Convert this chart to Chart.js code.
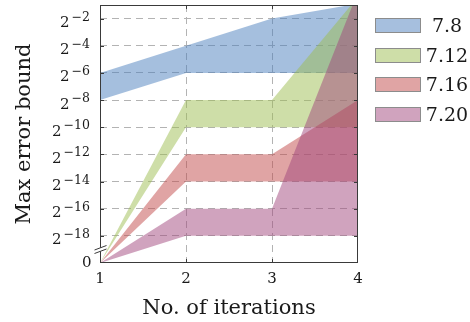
<!DOCTYPE html>
<html>
<head>
<meta charset="utf-8">
<script src="https://cdn.jsdelivr.net/npm/chart.js@4"></script>
<style>
  html, body { margin: 0; padding: 0; background: #fff; }
  #wrap { position: relative; width: 470px; height: 322px; }
  #legend { position: absolute; left: 375px; top: 18px; font-family: 'DejaVu Serif', serif; font-size: 19px; color: #1a1a1a; }
  .item { position: relative; height: 29.5px; width: 95px; }
  .box { position: absolute; left: 0; top: 0; width: 44px; height: 13px; border: 1px solid #8c8c8c; }
  .txt { position: absolute; left: 46px; width: 52px; top: -4px; line-height: 23px; text-align: center; }
</style>
</head>
<body>
<div id="wrap">
  <canvas id="chart" width="470" height="322"></canvas>
  <div id="legend"></div>
</div>
<script>
const iterations = [1, 2, 3, 4];
const seriesNames = ['7.8', '7.12', '7.16', '7.20'];

// values are log2 of the max error bound; ZERO is the "0" level under the axis break
const ZERO = -20;
const lo78  = [-8, -6, -6, -6];
const hi78  = [-6, -4, -2, -0.9];
const lo712 = [ZERO, -10, -10, -10];
const hi712 = [ZERO, -8, -8, -0.4];
const lo716 = [ZERO, -14, -14, -14];
const hi716 = [ZERO, -12, -12, -8];
const lo720 = [ZERO, -18, -18, -18];
const hi720 = [ZERO, -16, -16, 0];

const yTickExps = [-18, -16, -14, -12, -10, -8, -6, -4, -2];

const fillColors = ['rgba(76,128,190,0.5)', 'rgba(157,189,81,0.5)', 'rgba(193,73,73,0.5)', 'rgba(161,71,125,0.5)'];
const legendColors = ['#a6bfde', '#cedea8', '#e0a4a4', '#d0a3be'];
const textColor = '#1a1a1a';
const gridColor = '#b3b3b3';
const axisColor = '#3a3a3a';
const serif = "'DejaVu Serif', serif";

const bands = [[lo78, hi78], [lo712, hi712], [lo716, hi716], [lo720, hi720]];

const toPoints = arr => arr.map((v, i) => ({ x: iterations[i], y: v }));

// each band = invisible lower line + upper line filled down to it
const datasets = [];
bands.forEach(([lo, hi], i) => {
  const order = bands.length - i;
  datasets.push({
    label: seriesNames[i] + ' lo',
    data: toPoints(lo),
    borderColor: 'rgba(0,0,0,0)',
    pointRadius: 0,
    fill: false,
    order: order,
  });
  datasets.push({
    label: seriesNames[i],
    data: toPoints(hi),
    borderColor: 'rgba(0,0,0,0)',
    backgroundColor: fillColors[i],
    pointRadius: 0,
    fill: '-1',
    order: order,
  });
});

// frame, axis break, inner tick marks and the 2^n tick labels
const axisDecor = {
  id: 'axisDecor',
  afterDraw(chart) {
    const { ctx, chartArea: a, scales } = chart;
    const ys = scales.y, xs = scales.x;
    const L = Math.round(a.left) + 0.5, R = Math.round(a.right) - 0.5;
    const T = Math.round(a.top) + 0.5, B = Math.round(a.bottom) - 0.5;
    ctx.save();
    ctx.strokeStyle = axisColor;
    ctx.lineWidth = 1;
    ctx.strokeRect(L, T, R - L, B - T);

    // inner ticks
    ctx.beginPath();
    yTickExps.forEach(e => {
      const y = Math.round(ys.getPixelForValue(e)) + 0.5;
      ctx.moveTo(L, y); ctx.lineTo(L + 3.5, y);
      ctx.moveTo(R, y); ctx.lineTo(R - 3.5, y);
    });
    [2, 3].forEach(v => {
      const x = Math.round(xs.getPixelForValue(v)) + 0.5;
      ctx.moveTo(x, T); ctx.lineTo(x, T + 3.5);
      ctx.moveTo(x, B); ctx.lineTo(x, B - 3.5);
    });
    ctx.stroke();

    // axis break marks
    const bx = L, by = a.bottom - 13.5;
    ctx.fillStyle = '#fff';
    ctx.beginPath();
    ctx.moveTo(bx - 6, by + 0.5); ctx.lineTo(bx + 6, by - 4);
    ctx.lineTo(bx + 6, by - 0.5); ctx.lineTo(bx - 6, by + 4);
    ctx.closePath();
    ctx.fill();
    ctx.beginPath();
    ctx.moveTo(bx - 6, by + 0.5); ctx.lineTo(bx + 6, by - 4);
    ctx.moveTo(bx - 6, by + 4); ctx.lineTo(bx + 6, by - 0.5);
    ctx.stroke();

    // tick labels
    ctx.fillStyle = textColor;
    ctx.textAlign = 'right';
    ctx.textBaseline = 'alphabetic';
    const right = a.left - 10;
    yTickExps.forEach(e => {
      const y = ys.getPixelForValue(e);
      const sup = '\u2212' + Math.abs(e);
      ctx.font = '12.5px ' + serif;
      const w = ctx.measureText(sup).width;
      ctx.fillText(sup, right, y + 2);
      ctx.font = '15px ' + serif;
      ctx.fillText('2', right - w - 2, y + 8.5);
    });
    ctx.font = '15px ' + serif;
    ctx.textBaseline = 'middle';
    ctx.fillText('0', right + 1.5, ys.getPixelForValue(ZERO));
    ctx.restore();
  }
};

new Chart(document.getElementById('chart'), {
  type: 'line',
  data: { datasets },
  plugins: [axisDecor],
  options: {
    responsive: false,
    animation: false,
    layout: { padding: { top: 5, right: 112, left: 0, bottom: 0 } },
    plugins: { legend: { display: false }, tooltip: { enabled: false } },
    elements: { line: { tension: 0, borderWidth: 1 } },
    scales: {
      x: {
        type: 'linear',
        min: 1,
        max: 4,
        afterBuildTicks: s => { s.ticks = iterations.map(v => ({ value: v })); },
        afterFit: s => { s.height = 59; },
        grid: {
          color: c => (c.tick && (c.tick.value === 2 || c.tick.value === 3)) ? gridColor : 'rgba(0,0,0,0)',
          drawTicks: false,
        },
        border: { display: false, dash: [7, 5] },
        ticks: { color: textColor, font: { family: serif, size: 15 }, padding: 7, maxRotation: 0 },
        title: {
          display: true,
          text: 'No. of iterations',
          color: textColor,
          font: { family: serif, size: 21 },
          padding: { bottom: 1 },
        },
      },
      y: {
        type: 'linear',
        min: ZERO,
        max: -1,
        afterBuildTicks: s => { s.ticks = [ZERO].concat(yTickExps).map(v => ({ value: v })); },
        afterFit: s => { s.width = 100; },
        grid: {
          color: c => (c.tick && c.tick.value !== ZERO) ? gridColor : 'rgba(0,0,0,0)',
          drawTicks: false,
        },
        border: { display: false, dash: [7, 5] },
        ticks: { display: false },
        title: {
          display: true,
          text: 'Max error bound',
          color: textColor,
          font: { family: serif, size: 21 },
          padding: { top: 12 },
        },
      },
    },
  },
});

// legend
const legend = document.getElementById('legend');
seriesNames.forEach((name, i) => {
  const item = document.createElement('div');
  item.className = 'item';
  const box = document.createElement('div');
  box.className = 'box';
  box.style.background = legendColors[i];
  const txt = document.createElement('div');
  txt.className = 'txt';
  txt.textContent = name;
  item.appendChild(box);
  item.appendChild(txt);
  legend.appendChild(item);
});
</script>
</body>
</html>
